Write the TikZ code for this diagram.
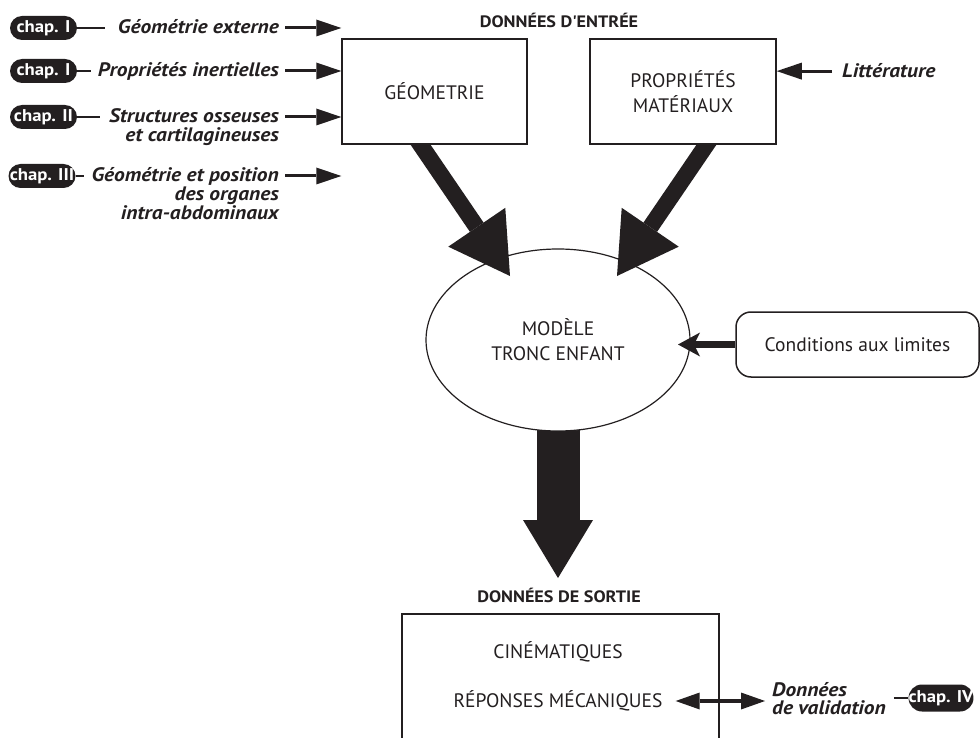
\documentclass[tikz,border=0pt]{standalone}
\usepackage{fontspec}
\setmainfont{PT Sans}
\newfontfamily\widefont{PT Sans}[FakeStretch=1.10]
\usetikzlibrary{arrows.meta,shapes.geometric,calc}
\definecolor{ink}{HTML}{231F20}
\pgfdeclarelayer{back}
\pgfdeclarelayer{front}
\pgfsetlayers{back,main,front}
\begin{document}
\begin{tikzpicture}[x=1pt,y=-1pt,
  boxnode/.style={draw=ink,line width=1.5pt,fill=white,inner sep=0pt,text=ink},
  lbl/.style={font=\widefont\fontsize{19.5}{17}\selectfont\bfseries\itshape,text=ink,inner sep=0pt},
  hdr/.style={font=\widefont\fontsize{16.5}{17}\selectfont\bfseries,text=ink,inner sep=0pt},
  txt/.style={font=\fontsize{19.5}{25}\selectfont,text=ink,inner sep=0pt,align=center},
  pill/.style={fill=ink,rounded corners=12pt,minimum width=67pt,minimum height=24pt,inner sep=0pt,text=white,font=\widefont\fontsize{17}{17}\selectfont\bfseries},
  link/.style={draw=ink,line width=2.5pt},
  inarrow/.style={draw=ink,line width=3pt,-{Triangle[length=25pt,width=17pt,line width=0pt]}},
  bigarrow/.style={draw=ink,line width=16.5pt,-{Triangle[length=59pt,width=69pt,line width=0pt]}},
]
\clip (0,0) rectangle (980,738);

% input boxes (drawn on top of the thick arrows)
\begin{pgfonlayer}{front}
\node[boxnode,txt,minimum width=185pt,minimum height=105pt] (geo) at (434.5,91.5) {GÉOMETRIE};
\node[boxnode,txt,minimum width=186pt,minimum height=105pt] (mat) at (683,91.5) {PROPRIÉTÉS\\MATÉRIAUX};
\end{pgfonlayer}

\node[hdr] (din) at (559,20) {DONNÉES D\textquotesingle ENTRÉE};

% model
\node[draw=ink,line width=1.2pt,fill=white,ellipse,minimum width=264pt,minimum height=182pt,inner sep=0pt,txt] (ell) at (558,340) {MODÈLE\\TRONC ENFANT};

% boundary conditions
\node[boxnode,txt,rounded corners=15pt,minimum width=243pt,minimum height=65pt] (cond) at (857.5,344.5) {Conditions aux limites};

% outputs
\node[hdr] (dout) at (559,595) {DONNÉES DE SORTIE};
\node[boxnode,minimum width=317pt,minimum height=180pt] (out) at (560.5,704) {};
\node[txt] (cine) at (558,652) {CINÉMATIQUES};
\node[txt] (resp) at (558,701) {RÉPONSES MÉCANIQUES};

% thick arrows
\coordinate (a1s) at (410.5,130);
\coordinate (a1e) at (510,276);
\coordinate (a2s) at (716.5,130);
\coordinate (a2e) at (617,276);
\coordinate (dtip) at (558,578);
\coordinate (ctip) at (678,344.5);
\draw[bigarrow] (a1s) -- (a1e);
\draw[bigarrow] (a2s) -- (a2e);
\begin{pgfonlayer}{back}
\draw[draw=ink,line width=43pt,-{Triangle[length=58pt,width=70pt,line width=0pt]}] (ell.center) -- (dtip);
\end{pgfonlayer}
\draw[draw=ink,line width=7pt,-{Stealth[length=22pt,width=24pt,inset=6pt,line width=0pt]}] (cond.west) -- (ctip);

% left inputs
\node[pill] (p1) at (43.5,28) {chap. I};
\node[pill] (p2) at (43.5,71) {chap. I};
\node[pill] (p3) at (43.5,117) {chap. II};
\node[pill] (p4) at (42,176) {chap. III};

\node[lbl,anchor=base east] (l1) at (279,34) {Géométrie externe};
\node[lbl,anchor=base east] (l2) at (279,77) {Propriétés inertielles};
\node[lbl,anchor=base east] (l3) at (279,123) {\begin{tabular}[t]{@{}r@{}}Structures osseuses\\et cartilagineuses\end{tabular}};
\node[lbl,anchor=base east] (l4) at (279,182) {\begin{tabular}[t]{@{}r@{}}Géométrie et position\\des organes\\intra-abdominaux\end{tabular}};

\draw[link] (p1.east) -- ([xshift=-13pt]p1.east -| l1.west);
\draw[link] (p2.east) -- ([xshift=-7pt]p2.east -| l2.west);
\draw[link] (p3.east) -- ([xshift=-9pt]p3.east -| l3.west);
\draw[link] (p4.east) -- ([xshift=-7pt]p4.east -| l4.west);

\draw[inarrow] ([xshift=6pt]l1.east |- p1.center) -- (geo.west |- p1.center);
\draw[inarrow] ([xshift=6pt]l2.east |- p2.center) -- (geo.west |- p2.center);
\draw[inarrow] ([xshift=6pt]l3.east |- p3.center) -- (geo.west |- p3.center);
\draw[inarrow] ([xshift=6pt]l4.east |- p4.center) -- (geo.west |- p4.center);

% literature
\node[lbl,anchor=base west] (lit) at (842,78) {Littérature};
\draw[inarrow] ([xshift=-10pt]lit.west) -- (mat.east |- lit.west);

% validation
\node[lbl,anchor=base west] (val) at (772,696) {\begin{tabular}[t]{@{}l@{}}Données\\de validation\end{tabular}};
\node[pill,minimum width=64pt,minimum height=27pt,rounded corners=13.5pt] (p5) at (941,698) {chap. IV};
\draw[draw=ink,line width=4pt,{Triangle[length=24pt,width=17pt,line width=0pt]}-{Triangle[length=24pt,width=17pt,line width=0pt]}] ([xshift=13pt]resp.east) -- ([xshift=-7pt]resp.east -| val.west);
\draw[link] ([xshift=8pt]val.east |- p5.west) -- (p5.west);
\end{tikzpicture}
\end{document}
